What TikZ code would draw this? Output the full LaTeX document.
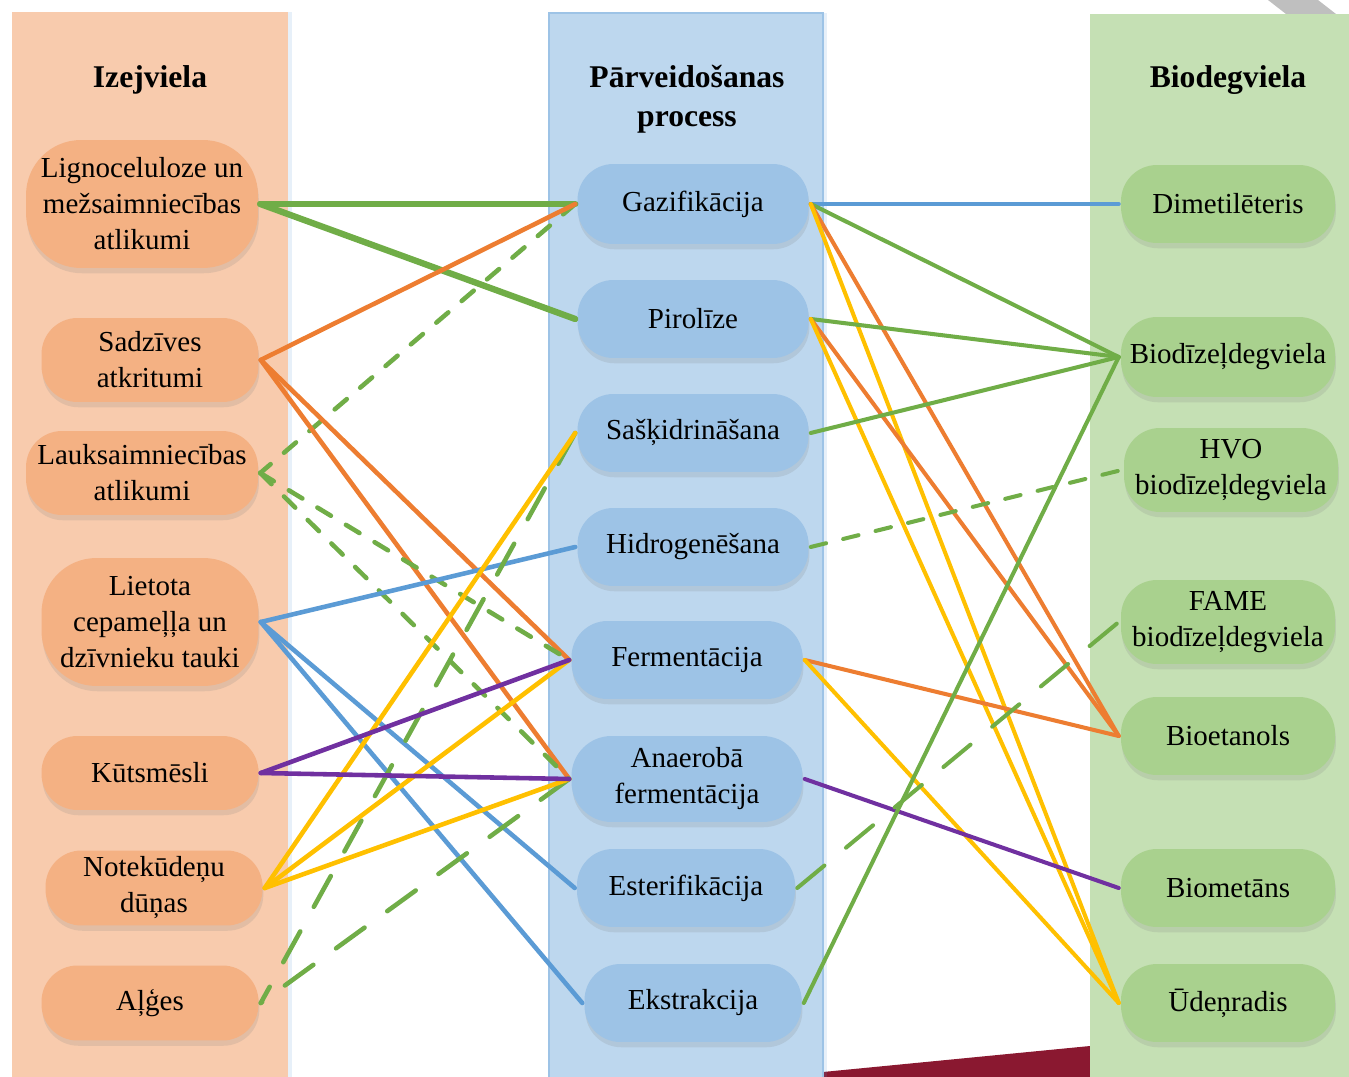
\documentclass[tikz,border=0pt]{standalone}
\usepackage{fontspec}
\setmainfont{Liberation Serif}
\usetikzlibrary{shadows}

\definecolor{izbg}{HTML}{F8CBAD}
\definecolor{iznode}{HTML}{F4B183}
\definecolor{pabg}{HTML}{BDD7EE}
\definecolor{panode}{HTML}{9DC3E6}
\definecolor{bibg}{HTML}{C5E0B4}
\definecolor{binode}{HTML}{A9D18E}
\definecolor{lgreen}{HTML}{70AD47}
\definecolor{lorange}{HTML}{ED7D31}
\definecolor{lblue}{HTML}{5B9BD5}
\definecolor{lpurple}{HTML}{7030A0}
\definecolor{lyellow}{HTML}{FFC000}
\definecolor{darkred}{HTML}{8A1830}

\tikzset{
  box/.style={rounded corners=0.72cm, inner sep=0pt, align=center,
    minimum width=4.34cm, minimum height=1.56cm,
    font=\fontsize{16.5}{20.5}\selectfont,
    drop shadow={opacity=0.18, shadow xshift=0.5pt, shadow yshift=-3pt}},
  head/.style={align=center, font=\bfseries\fontsize{18}{22}\selectfont},
  short dash/.style={dash pattern=on 9pt off 10pt},
  long dash/.style={dash pattern=on 20pt off 16pt}
}

\begin{document}
\begin{tikzpicture}[x=0.02cm,y=-0.02cm,line width=2.6pt,line cap=round]
  \useasboundingbox (0,0) rectangle (1349,1077);
  % background shapes
  \fill[black!25] (1268,0) -- (1318,0) -- (1336,14) -- (1286,14) -- cycle;
  \fill[darkred] (823,1072) -- (1090,1046) -- (1090,1077) -- (823,1077) -- cycle;
  \fill[izbg,drop shadow={opacity=0.15,shadow xshift=2pt,shadow yshift=0pt,fill=lblue}] (12,12) rectangle (288,1085);
  \filldraw[fill=pabg,draw=panode,line width=1pt,drop shadow={opacity=0.15,shadow xshift=2pt,shadow yshift=0pt,fill=lblue}] (549,13) rectangle (823,1085);
  \fill[bibg] (1090,14) rectangle (1355,1085);

  \node[head] (hiz) at (150,80) {Izejviela};
  \node[head] (hpa) at (687,99) {Pārveidošanas\\process};
  \node[head] (hbi) at (1228,80) {Biodegviela};

  \begin{scope}
    \tikzstyle{every node}=[box,fill=iznode]
    \node[minimum width=4.64cm,minimum height=2.56cm,rounded corners=1.1cm] (lig) at (142,204) {Lignoceluloze un\\mežsaimniecības\\atlikumi};
    \node[minimum height=1.68cm] (sadz) at (150,360) {Sadzīves\\atkritumi};
    \node[minimum width=4.64cm,minimum height=1.68cm] (lauk) at (142,473) {Lauksaimniecības\\atlikumi};
    \node[minimum height=2.56cm,rounded corners=1.1cm] (liet) at (150,622) {Lietota\\cepameļļa un\\dzīvnieku tauki};
    \node[minimum height=1.48cm] (kuts) at (150,773) {Kūtsmēsli};
    \node[minimum height=1.5cm] (note) at (154,888) {Notekūdeņu\\dūņas};
    \node[minimum height=1.5cm] (alg) at (150,1003) {Aļģes};
  \end{scope}

  \begin{scope}
    \tikzstyle{every node}=[box,fill=panode,minimum width=4.62cm]
    \node[minimum height=1.6cm] (gaz) at (693,204) {Gazifikācija};
    \node (pir) at (693,319) {Pirolīze};
    \node (sas) at (693,433) {Sašķidrināšana};
    \node (hyd) at (693,547) {Hidrogenēšana};
    \node (fer) at (687,660) {Fermentācija};
    \node[minimum height=1.72cm,rounded corners=0.8cm] (ana) at (687,779) {Anaerobā\\fermentācija};
    \node[minimum width=4.36cm] (est) at (686,888) {Esterifikācija};
    \node[minimum width=4.34cm] (ext) at (693,1003) {Ekstrakcija};
  \end{scope}

  \begin{scope}
    \tikzstyle{every node}=[box,fill=binode,minimum width=4.28cm]
    \node (dim) at (1228,204) {Dimetilēteris};
    \node[minimum height=1.6cm] (biod) at (1228,357) {Biodīzeļdegviela};
    \node[minimum height=1.68cm] (hvo) at (1231,470) {HVO\\biodīzeļdegviela};
    \node[minimum height=1.68cm] (fame) at (1228,622) {FAME\\biodīzeļdegviela};
    \node (bioet) at (1228,736) {Bioetanols};
    \node (biomet) at (1228,888) {Biometāns};
    \node (uden) at (1228,1003) {Ūdeņradis};
  \end{scope}

  % izejviela -> process
  \draw[lgreen,line width=3.6pt] (lig.east) -- (gaz.west);
  \draw[lgreen,line width=3.6pt] (lig.east) -- (pir.west);
  \draw[lgreen,short dash] (gaz.west) -- (lauk.east);
  \draw[lorange] (sadz.east) -- (gaz.west);
  \draw[lorange] (sadz.east) -- (fer.west);
  \draw[lorange] (sadz.east) -- (ana.west);
  \draw[lgreen,short dash] (lauk.east) -- (fer.west);
  \draw[lgreen,short dash] (lauk.east) -- (ana.west);
  \draw[lblue] (liet.east) -- (hyd.west);
  \draw[lblue] (liet.east) -- (est.west);
  \draw[lblue] (liet.east) -- (ext.west);
  \draw[lgreen,long dash] (sas.west) -- (alg.east);
  \draw[lgreen,long dash] (ana.west) -- (alg.east);
  \draw[lyellow] (note.east) -- (sas.west);
  \draw[lyellow] (note.east) -- (fer.west);
  \draw[lyellow] (note.east) -- (ana.west);
  \draw[lpurple] (kuts.east) -- (fer.west);
  \draw[lpurple] (kuts.east) -- (ana.west);

  % process -> biodegviela
  \begin{scope}[line width=2.3pt]
  \draw[lblue] (gaz.east) -- (dim.west);
  \draw[lgreen] (gaz.east) -- (biod.west);
  \draw[lorange] (gaz.east) -- (bioet.west);
  \draw[lyellow] (gaz.east) -- (uden.west);
  \draw[lgreen] (pir.east) -- (biod.west);
  \draw[lorange] (pir.east) -- (bioet.west);
  \draw[lyellow] (pir.east) -- (uden.west);
  \draw[lgreen] (sas.east) -- (biod.west);
  \draw[lgreen,short dash] (hyd.east) -- (hvo.west);
  \draw[lorange] (fer.east) -- (bioet.west);
  \draw[lyellow] (fer.east) -- (uden.west);
  \draw[lpurple] (ana.east) -- (biomet.west);
  \draw[lgreen,long dash] (est.east) -- (fame.west);
  \draw[lgreen] (ext.east) -- (biod.west);
  \end{scope}
\end{tikzpicture}
\end{document}
